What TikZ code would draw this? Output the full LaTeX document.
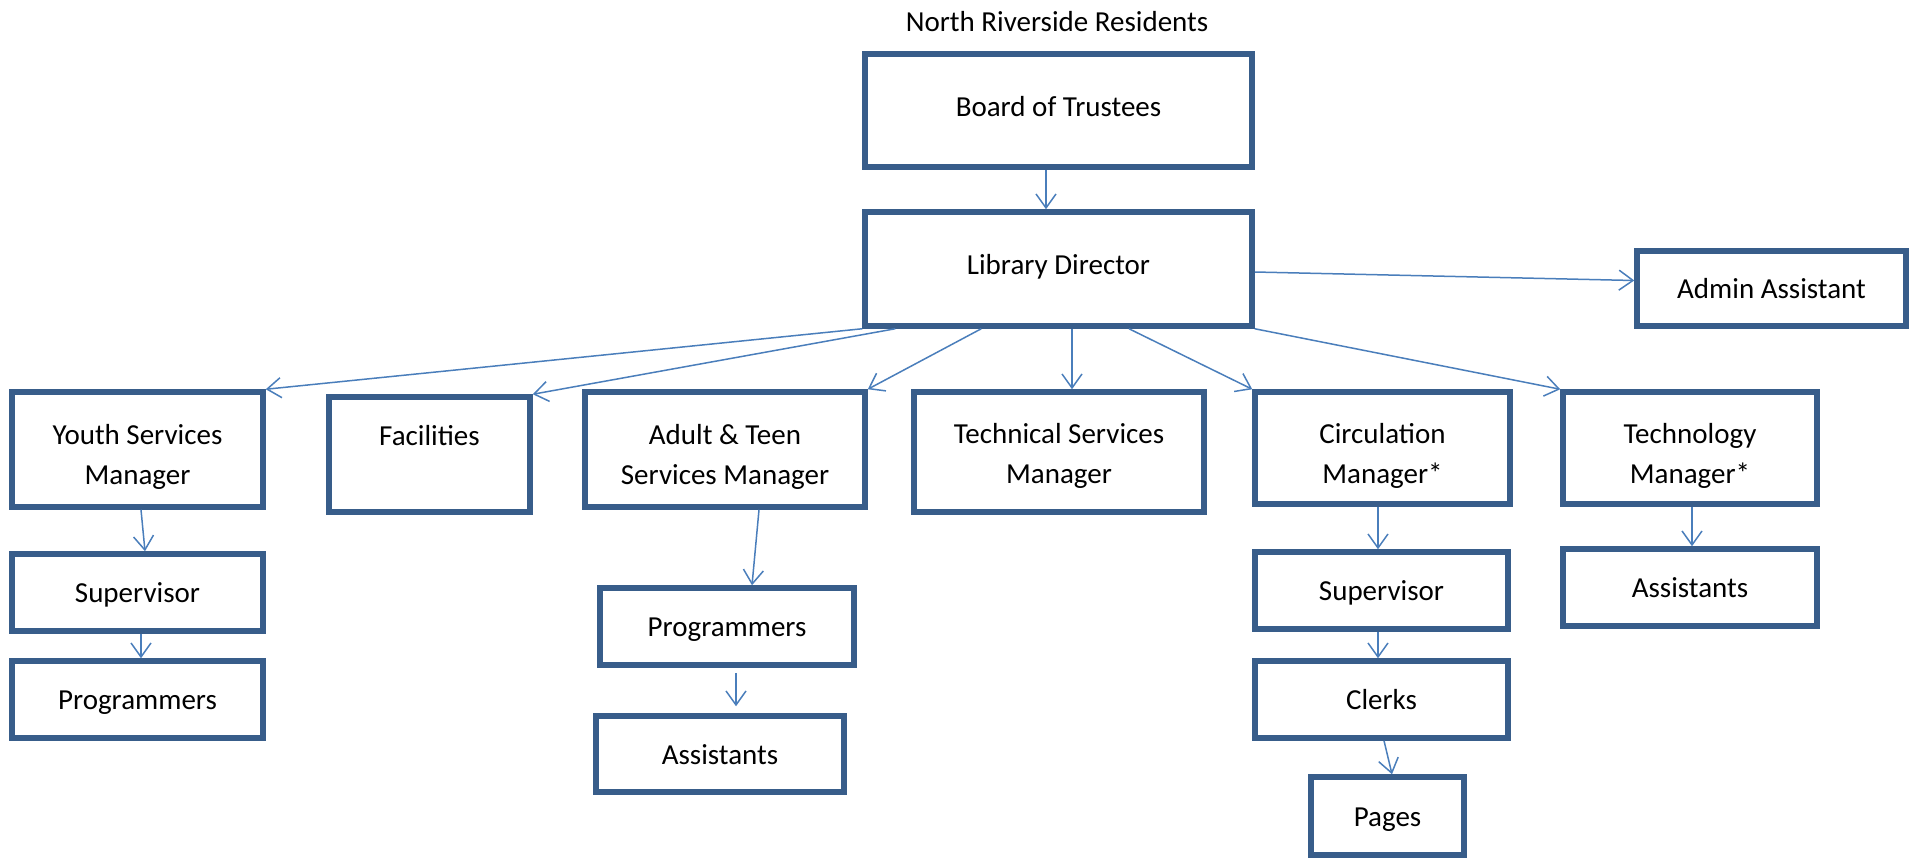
\documentclass[tikz,border=0pt]{standalone}
\usepackage{fontspec}
\setmainfont{Carlito}
\usetikzlibrary{arrows.meta}

\definecolor{boxblue}{HTML}{385D8A}
\definecolor{lineblue}{HTML}{4A7EBB}

\begin{document}
\begin{tikzpicture}[x=1pt,y=-1pt,
        box/.style={draw=boxblue, line width=5.5pt, inner sep=0pt, align=center,
            text height=20pt, text depth=0pt,
            font=\fontsize{29}{40}\selectfont},
        headbox/.style={box, text depth=9pt},
        twoline/.style={box, text height=70pt},
        link/.style={draw=lineblue, line width=1.5pt,
            -{Straight Barb[length=14pt,width=20pt,line width=1.5pt]}}]
    \useasboundingbox (0,0) rectangle (1910,857);

    % Kopf
    \node[font=\fontsize{29}{40}\selectfont] (res) at (1057,22) {North Riverside Residents};
    \node[headbox, minimum width=387pt, minimum height=113pt] (board) at (1058.5,110.5) {Board of Trustees};
    \node[headbox, minimum width=387pt, minimum height=114pt] (dir) at (1058.5,269) {Library Director};
    \node[box, minimum width=269pt, minimum height=75pt] (admin) at (1771.5,288.5) {Admin Assistant};

    % Abteilungen
    \node[twoline, minimum width=251pt, minimum height=115pt] (youth) at (137.5,449.5) {Youth Services\\Manager};
    \node[twoline, text height=61pt, minimum width=201pt, minimum height=115pt] (fac) at (429.5,454.5) {Facilities\\~};
    \node[twoline, minimum width=280pt, minimum height=115pt] (adult) at (725,449.5) {Adult \& Teen\\Services Manager};
    \node[twoline, text height=62pt, minimum width=290pt, minimum height=120pt] (techserv) at (1059,452) {Technical Services\\Manager};
    \node[twoline, minimum width=255pt, minimum height=112pt] (circ) at (1382.5,448) {Circulation\\Manager*};
    \node[twoline, minimum width=254pt, minimum height=112pt] (techman) at (1690,448) {Technology\\Manager*};

    % Mitarbeiter
    \node[box, minimum width=251pt, minimum height=77pt] (ysup) at (137.5,592.5) {Supervisor};
    \node[box, minimum width=251pt, minimum height=77pt] (yprog) at (137.5,699.5) {Programmers};
    \node[box, minimum width=254pt, minimum height=77pt] (aprog) at (727,626.5) {Programmers};
    \node[box, minimum width=248pt, minimum height=76pt] (aasst) at (720,754) {Assistants};
    \node[box, minimum width=253pt, minimum height=77pt] (csup) at (1381.5,590.5) {Supervisor};
    \node[box, minimum width=253pt, minimum height=77pt] (clerks) at (1381.5,699.5) {Clerks};
    \node[box, minimum width=153pt, minimum height=78pt] (pages) at (1387.5,816) {Pages};
    \node[box, minimum width=254pt, minimum height=77pt] (tasst) at (1690,587.5) {Assistants};

    % Pfeile
    \draw[link] ([xshift=-12.5pt]board.south) -- ([xshift=-12.5pt]dir.north);
    \draw[link] ([yshift=-3pt]dir.east) -- ([yshift=8pt]admin.west);
    \draw[link] (dir.south west) -- (youth.north east);
    \draw[link] ([xshift=33pt]dir.south west) -- (fac.north east);
    \draw[link] ([xshift=119pt]dir.south west) -- (adult.north east);
    \draw[link] ([xshift=13.5pt]dir.south) -- ([xshift=13pt]techserv.north);
    \draw[link] ([xshift=70.5pt]dir.south) -- (circ.north west);
    \draw[link] (dir.south east) -- (techman.north west);

    \draw[link] ([xshift=3.5pt]youth.south) -- ([xshift=7.5pt]ysup.north);
    \draw[link] ([xshift=3.5pt]ysup.south) -- ([xshift=3.5pt]yprog.north);
    \draw[link] ([xshift=34pt]adult.south) -- ([xshift=25pt]aprog.north);
    \draw[link] ([xshift=9pt,yshift=-5pt]aprog.south) -- ([xshift=16pt,yshift=7pt]aasst.north);
    \draw[link] ([xshift=-4.5pt]circ.south) -- ([xshift=-3.5pt]csup.north);
    \draw[link] ([xshift=-3.5pt]csup.south) -- ([xshift=-3.5pt]clerks.north);
    \draw[link] ([xshift=2.5pt]clerks.south) -- ([xshift=4.5pt]pages.north);
    \draw[link] ([xshift=2pt]techman.south) -- ([xshift=2pt]tasst.north);
\end{tikzpicture}
\end{document}
